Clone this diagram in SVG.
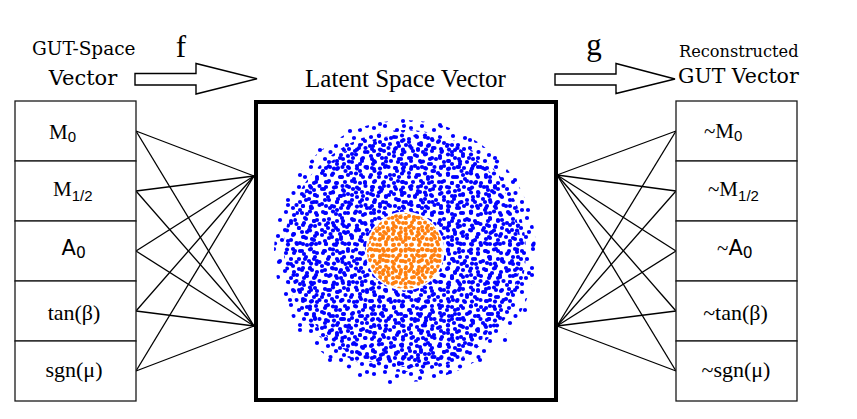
<svg xmlns="http://www.w3.org/2000/svg" width="857" height="419" viewBox="0 0 857 419">
<style>
.box{fill:#fff;stroke:#1a1a1a;stroke-width:1.3}
.ln{stroke:#000;stroke-width:1.3;fill:none}
.arr{fill:#fff;stroke:#000;stroke-width:1.4;stroke-linejoin:miter}
.ser{font-family:"Liberation Serif",serif;fill:#000}
.dvs{font-family:"DejaVu Serif",serif;fill:#000}
.sans{font-family:"DejaVu Sans",sans-serif;fill:#000}
.sub{font-family:"Liberation Sans",sans-serif;font-size:15px}
.lbl{font-size:21px}
.lbl2{font-size:22px}
.b{fill:#0000ff}
.o{fill:#ff7f0e}
</style>
<defs>
<pattern id="pA" width="23" height="19" patternUnits="userSpaceOnUse">
<g class="b"><circle cx="3" cy="4" r="2.1"/><circle cx="11" cy="2.5" r="2.1"/><circle cx="18" cy="6" r="2.1"/><circle cx="7" cy="10" r="2.1"/><circle cx="15" cy="12" r="2.1"/><circle cx="20.5" cy="15" r="2.1"/><circle cx="4" cy="16" r="2.1"/><circle cx="12" cy="16.6" r="2.1"/></g>
</pattern>
<pattern id="pB" width="29" height="31" patternUnits="userSpaceOnUse">
<g class="b"><circle cx="5" cy="3" r="2.1"/><circle cx="14" cy="6" r="2.1"/><circle cx="24" cy="4" r="2.1"/><circle cx="9" cy="11" r="2.1"/><circle cx="19" cy="13" r="2.1"/><circle cx="26.5" cy="16" r="2.1"/><circle cx="3" cy="18" r="2.1"/><circle cx="13" cy="20" r="2.1"/><circle cx="22" cy="22" r="2.1"/><circle cx="7" cy="27" r="2.1"/><circle cx="17" cy="28" r="2.1"/><circle cx="26" cy="27" r="2.1"/><circle cx="25" cy="9" r="2.1"/></g>
</pattern>
<pattern id="pC" width="37" height="41" patternUnits="userSpaceOnUse">
<g class="b"><circle cx="4" cy="5" r="2.1"/><circle cx="15" cy="3" r="2.1"/><circle cx="27" cy="7" r="2.1"/><circle cx="34" cy="3" r="2.1"/><circle cx="9" cy="13" r="2.1"/><circle cx="21" cy="15" r="2.1"/><circle cx="32" cy="18" r="2.1"/><circle cx="3" cy="23" r="2.1"/><circle cx="14" cy="22" r="2.1"/><circle cx="26" cy="25" r="2.1"/><circle cx="34.5" cy="29" r="2.1"/><circle cx="8" cy="32" r="2.1"/><circle cx="19" cy="31" r="2.1"/><circle cx="29" cy="36" r="2.1"/><circle cx="4" cy="38" r="2.1"/><circle cx="16" cy="38.5" r="2.1"/><circle cx="11" cy="27" r="2.1"/></g>
</pattern>
<pattern id="pD" width="13" height="11" patternUnits="userSpaceOnUse">
<g class="o"><circle cx="3" cy="3" r="2"/><circle cx="9" cy="2.5" r="2"/><circle cx="10.8" cy="8" r="2"/><circle cx="6" cy="7" r="2"/><circle cx="2.5" cy="8.8" r="2"/></g>
</pattern>
<pattern id="pE" width="17" height="19" patternUnits="userSpaceOnUse">
<g class="o"><circle cx="3" cy="3" r="2"/><circle cx="10" cy="4" r="2"/><circle cx="14.8" cy="9" r="2"/><circle cx="6" cy="11" r="2"/><circle cx="12" cy="14" r="2"/><circle cx="3" cy="16.8" r="2"/><circle cx="14.5" cy="2.5" r="2"/><circle cx="9" cy="8" r="2"/></g>
</pattern>
</defs>
<rect width="857" height="419" fill="#fff"/>

<g id="title-input">
<text class="dvs" x="83.8" y="55" font-size="18.5" text-anchor="middle">GUT-Space</text>
<text class="dvs" x="83" y="85" font-size="21" text-anchor="middle">Vector</text>
</g>
<g id="arrow-f">
<polygon class="arr" points="135,73.5 196,73.5 196,63.5 257,78.8 196,94 196,85 135,85"/>
<text class="ser" x="181" y="56.5" font-size="31" text-anchor="middle">f</text>
</g>
<g id="title-latent">
<text class="ser" x="405.5" y="87" font-size="25" text-anchor="middle">Latent Space Vector</text>
</g>
<g id="arrow-g">
<polygon class="arr" points="555,74 616,74 616,63.5 675,79 616,93.5 616,85 555,85"/>
<text class="ser" x="594" y="54.5" font-size="31" text-anchor="middle">g</text>
</g>
<g id="title-output">
<text class="dvs" x="679" y="56.5" font-size="16.2">Reconstructed</text>
<text class="dvs" x="678" y="83" font-size="20.5">GUT Vector</text>
</g>

<g id="connectors">
<line class="ln" x1="136" y1="131" x2="254" y2="176"/>
<line class="ln" x1="136" y1="131" x2="254" y2="326"/>
<line class="ln" x1="136" y1="191" x2="254" y2="176"/>
<line class="ln" x1="136" y1="191" x2="254" y2="326"/>
<line class="ln" x1="136" y1="251" x2="254" y2="176"/>
<line class="ln" x1="136" y1="251" x2="254" y2="326"/>
<line class="ln" x1="136" y1="311" x2="254" y2="176"/>
<line class="ln" x1="136" y1="311" x2="254" y2="326"/>
<line class="ln" x1="136" y1="371" x2="254" y2="176"/>
<line class="ln" x1="136" y1="371" x2="254" y2="326"/>
<line class="ln" x1="557" y1="175" x2="676" y2="131"/>
<line class="ln" x1="557" y1="175" x2="676" y2="191"/>
<line class="ln" x1="557" y1="175" x2="676" y2="251"/>
<line class="ln" x1="557" y1="175" x2="676" y2="311"/>
<line class="ln" x1="557" y1="175" x2="676" y2="371"/>
<line class="ln" x1="557" y1="326" x2="676" y2="131"/>
<line class="ln" x1="557" y1="326" x2="676" y2="191"/>
<line class="ln" x1="557" y1="326" x2="676" y2="251"/>
<line class="ln" x1="557" y1="326" x2="676" y2="311"/>
<line class="ln" x1="557" y1="326" x2="676" y2="371"/>
</g>

<g id="in-M0"><rect class="box" x="15" y="101" width="121" height="60"/><text class="ser lbl" x="49" y="139">M<tspan class="sub" dy="3">0</tspan></text></g>
<g id="in-M12"><rect class="box" x="15" y="161" width="121" height="60"/><text class="ser lbl" x="53" y="196">M<tspan class="sub" dy="5">1/2</tspan></text></g>
<g id="in-A0"><rect class="box" x="15" y="221" width="121" height="60"/><text class="sans" x="61.5" y="255" font-size="21">A<tspan font-size="15.5" dy="3">0</tspan></text></g>
<g id="in-tanb"><rect class="box" x="15" y="281" width="121" height="60"/><text class="ser lbl2" x="74" y="320" text-anchor="middle">tan(β)</text></g>
<g id="in-sgnmu"><rect class="box" x="15" y="341" width="121" height="60"/><text class="ser lbl2" x="74" y="377" text-anchor="middle">sgn(μ)</text></g>

<g id="out-M0"><rect class="box" x="676" y="101" width="121" height="60"/><text class="ser lbl" x="704" y="138">~M<tspan class="sub" dy="3">0</tspan></text></g>
<g id="out-M12"><rect class="box" x="676" y="161" width="121" height="60"/><text class="ser lbl" x="708" y="196">~M<tspan class="sub" dy="5">1/2</tspan></text></g>
<g id="out-A0"><rect class="box" x="676" y="221" width="121" height="60"/><text class="ser" x="717" y="255" font-size="21">~<tspan class="sans">A</tspan><tspan class="sans" font-size="15.5" dy="3">0</tspan></text></g>
<g id="out-tanb"><rect class="box" x="676" y="281" width="121" height="60"/><text class="ser lbl2" x="735.5" y="320" text-anchor="middle">~tan(β)</text></g>
<g id="out-sgnmu"><rect class="box" x="676" y="341" width="121" height="60"/><text class="ser lbl2" x="736" y="377" text-anchor="middle">~sgn(μ)</text></g>

<g id="latent">
<rect x="256" y="102" width="300" height="298" fill="#fff" stroke="#000" stroke-width="4"/>
<circle cx="405" cy="251" r="131" fill="url(#pC)"/>
<circle cx="405" cy="251" r="121" fill="url(#pA)"/>
<circle cx="405" cy="251" r="116" fill="url(#pB)"/>
<g class="b">
<circle cx="282" cy="240" r="2.1"/><circle cx="279" cy="262" r="2.1"/><circle cx="290" cy="300" r="2.1"/><circle cx="300" cy="330" r="2.1"/><circle cx="330" cy="360" r="2.1"/><circle cx="360" cy="375" r="2.1"/><circle cx="390" cy="382" r="2.1"/><circle cx="420" cy="378" r="2.1"/><circle cx="450" cy="372" r="2.1"/><circle cx="480" cy="360" r="2.1"/><circle cx="505" cy="340" r="2.1"/><circle cx="525" cy="310" r="2.1"/><circle cx="532" cy="275" r="2.1"/><circle cx="533" cy="245" r="2.1"/><circle cx="528" cy="210" r="2.1"/><circle cx="515" cy="180" r="2.1"/><circle cx="495" cy="158" r="2.1"/><circle cx="470" cy="140" r="2.1"/><circle cx="440" cy="125" r="2.1"/><circle cx="403" cy="121" r="2.1"/><circle cx="380" cy="124" r="2.1"/><circle cx="350" cy="131" r="2.1"/><circle cx="320" cy="150" r="2.1"/><circle cx="300" cy="175" r="2.1"/><circle cx="288" cy="205" r="2.1"/>
</g>
<circle cx="405" cy="251" r="39.5" fill="#fff"/>
<circle cx="405" cy="251" r="38" fill="url(#pD)"/>
<circle cx="405" cy="251" r="37" fill="url(#pE)"/>
</g>
</svg>
